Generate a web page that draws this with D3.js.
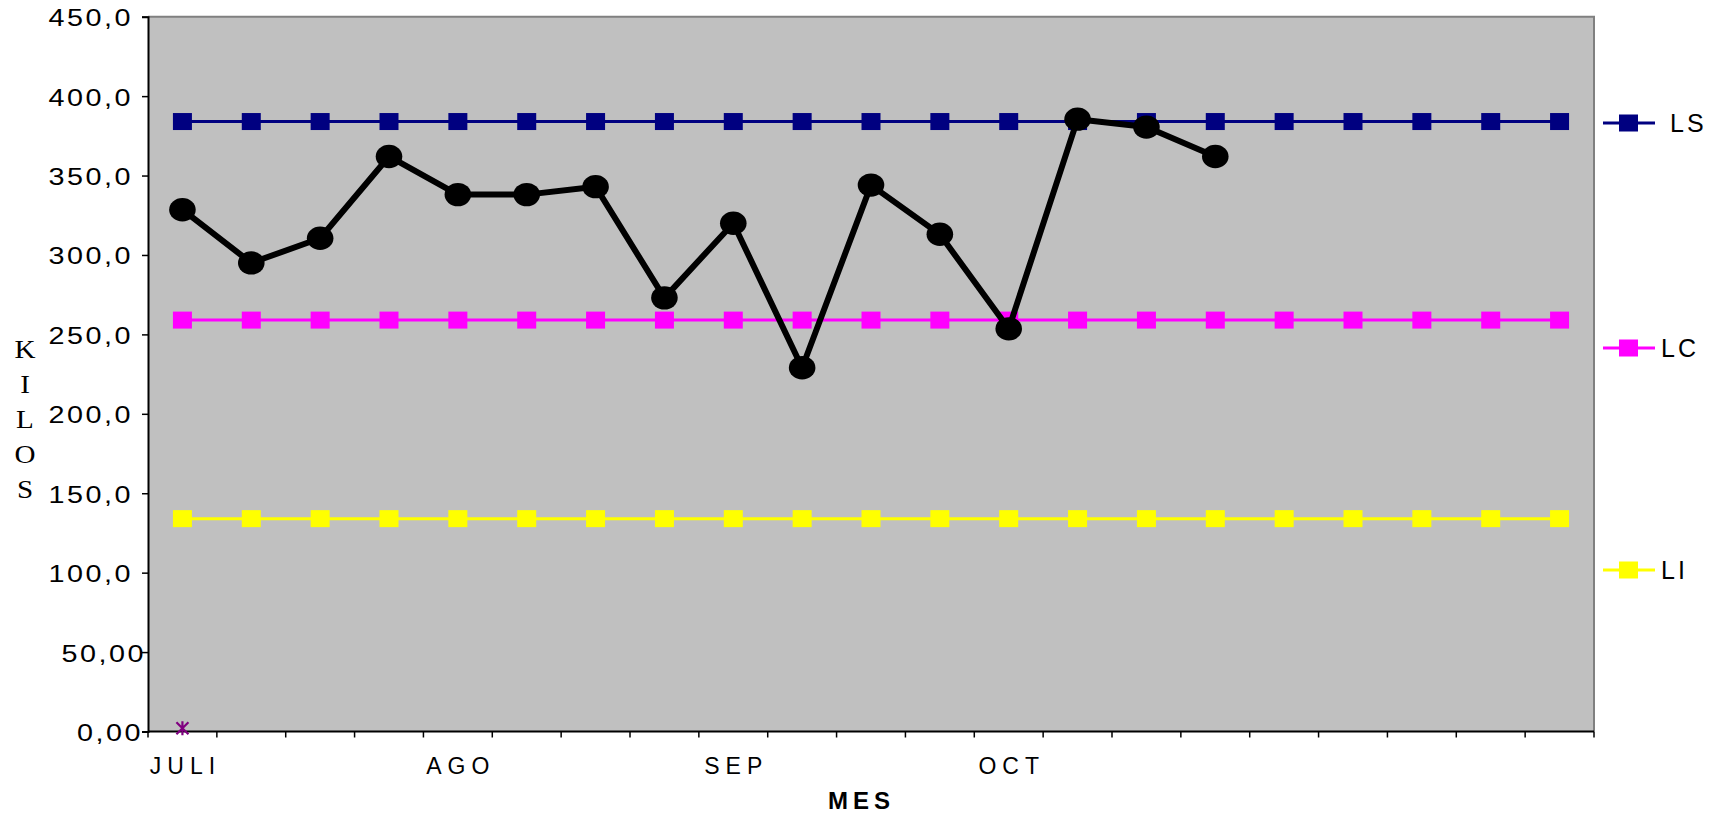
<!DOCTYPE html>
<html>
<head>
<meta charset="utf-8">
<script src="https://cdn.jsdelivr.net/npm/d3@7"></script>
<style>
  html, body { margin: 0; padding: 0; background: #fff; }
  svg { display: block; }
</style>
</head>
<body>
<svg id="chart" width="1729" height="818"></svg>
<script>
// ---- data ----
const categories = d3.range(21);
const xTickLabels = ["JULI","","","","AGO","","","","SEP","","","","OCT","","","","","","","",""];
const yTickValues = [0,50,100,150,200,250,300,350,400,450];
const yTickLabels = ["0,00","50,00","100,0","150,0","200,0","250,0","300,0","350,0","400,0","450,0"];
const kilos = [328.5,295,310.5,362,338,338,343,273,320,229,344,313,253.5,385.5,380.5,362];
const LS = categories.map(() => 384);
const LC = categories.map(() => 259);
const LI = categories.map(() => 134);
const extra = [2]; // purple asterisk series at first category
const legendNames = ["LS","LC","LI"];

// ---- layout ----
const svg = d3.select("#chart");
const pL = 148, pR = 1594, pT = 16.7, pB = 731.5;
const x = d3.scaleBand().domain(categories).range([pL, pR]).padding(0);
const y = d3.scaleLinear().domain([0, 450]).range([pB, pT]);
const cx = i => x(i) + x.bandwidth() / 2;

// plot background
svg.append("rect").attr("x", pL).attr("y", pT)
  .attr("width", pR - pL).attr("height", pB - pT)
  .attr("fill", "#C0C0C0");
svg.append("path")
  .attr("d", `M${pL},${pT}H${pR}V${pB}`)
  .attr("fill", "none").attr("stroke", "#808080").attr("stroke-width", 2);

// y axis
const yAxis = d3.axisLeft(y).tickValues(yTickValues).tickSize(6).tickFormat("");
const gy = svg.append("g").attr("transform", `translate(${pL},0)`).call(yAxis);
gy.select(".domain").attr("stroke", "#000").attr("stroke-width", 2);
gy.selectAll(".tick line").attr("stroke", "#000").attr("stroke-width", 1.5);
svg.append("g").selectAll("text").data(yTickValues).join("text")
  .attr("transform", (d, i) => {
    const lab = yTickLabels[i];
    const xe = lab.endsWith("00") ? (lab.length === 5 ? 146 : 143) : 133;
    return `translate(${xe},${y(d) + 9.5}) scale(1.25,1)`;
  })
  .attr("text-anchor", "end")
  .attr("font-family", "Liberation Sans, Arial, sans-serif")
  .attr("font-size", 23)
  .attr("letter-spacing", 2)
  .attr("fill", "#000")
  .text((d, i) => yTickLabels[i]);

// x axis
const gx = svg.append("g").attr("transform", `translate(0,${pB})`);
gx.append("line").attr("x1", pL).attr("x2", pR).attr("stroke", "#000").attr("stroke-width", 2);
const boundaries = categories.map(i => x(i)).concat([pR]);
gx.selectAll(".xt").data(boundaries).join("line").attr("class", "xt")
  .attr("x1", d => d).attr("x2", d => d).attr("y1", 0).attr("y2", 6)
  .attr("stroke", "#000").attr("stroke-width", 1.5);
gx.selectAll(".xl").data(categories).join("text").attr("class", "xl")
  .attr("x", i => cx(i) + 3).attr("y", 42)
  .attr("text-anchor", "middle")
  .attr("font-family", "Liberation Sans, Arial, sans-serif")
  .attr("font-size", 23)
  .attr("letter-spacing", 6)
  .attr("fill", "#000")
  .text(i => xTickLabels[i]);

// axis titles
svg.append("text").attr("x", 861.5).attr("y", 809)
  .attr("text-anchor", "middle")
  .attr("font-family", "Liberation Sans, Arial, sans-serif")
  .attr("font-weight", "bold").attr("font-size", 24).attr("letter-spacing", 5)
  .text("MES");
const ytitle = "KILOS".split("");
svg.append("g").selectAll("text").data(ytitle).join("text")
  .attr("transform", (d, i) => `translate(25,${358 + i * 35}) scale(1.12,1)`)
  .attr("text-anchor", "middle")
  .attr("font-family", "Liberation Serif, Times New Roman, serif")
  .attr("font-size", 26)
  .text(d => d);

// limit series
const limitSeries = [
  { name: "LS", values: LS, color: "#000080" },
  { name: "LC", values: LC, color: "#FF00FF" },
  { name: "LI", values: LI, color: "#FFFF00" }
];
const line = d3.line().x((d, i) => cx(i)).y(d => y(d));
limitSeries.forEach(s => {
  svg.append("path").datum(s.values).attr("d", line)
    .attr("fill", "none").attr("stroke", s.color).attr("stroke-width", 3);
  svg.append("g").selectAll("rect").data(s.values).join("rect")
    .attr("x", (d, i) => cx(i) - 9.5).attr("y", d => y(d) - 8.5)
    .attr("width", 19).attr("height", 17)
    .attr("fill", s.color);
});

// main series
svg.append("path").datum(kilos).attr("d", line)
  .attr("fill", "none").attr("stroke", "#000").attr("stroke-width", 6)
  .attr("stroke-linejoin", "round");
svg.append("g").selectAll("ellipse").data(kilos).join("ellipse")
  .attr("cx", (d, i) => cx(i)).attr("cy", d => y(d))
  .attr("rx", 13.3).attr("ry", 11.7).attr("fill", "#000");

// purple asterisk
const ast = svg.append("g").selectAll("g").data(extra).join("g")
  .attr("transform", (d, i) => `translate(${cx(i)},${y(d)})`);
ast.append("path").attr("d", "M-6,-6L6,6M-6,6L6,-6M0,-7V7")
  .attr("stroke", "#800080").attr("stroke-width", 2.2).attr("fill", "none");

// legend
const legendY = [123, 348, 570];
const legendTextX = [1670, 1661, 1661];
const lg = svg.append("g").selectAll("g").data(limitSeries).join("g")
  .attr("transform", (d, i) => `translate(0,${legendY[i]})`);
lg.append("line").attr("x1", 1603).attr("x2", 1655)
  .attr("stroke", d => d.color).attr("stroke-width", 3);
lg.append("rect").attr("x", 1619).attr("y", -8.5).attr("width", 19).attr("height", 17)
  .attr("fill", d => d.color);
lg.append("text").attr("x", (d, i) => legendTextX[i]).attr("y", 9)
  .attr("font-family", "Liberation Sans, Arial, sans-serif")
  .attr("font-size", 25).attr("letter-spacing", 3)
  .text((d, i) => legendNames[i]);
</script>
</body>
</html>
